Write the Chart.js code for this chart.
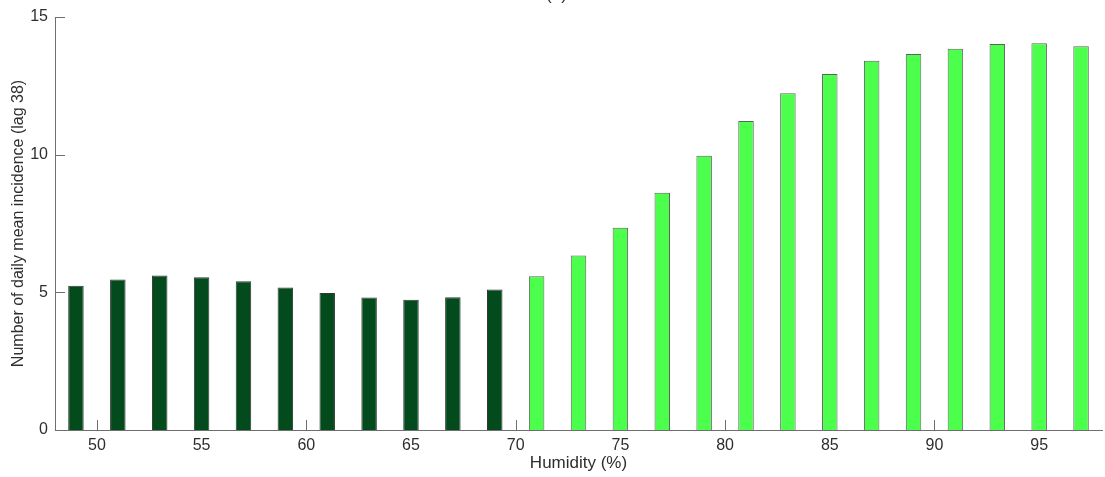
<!DOCTYPE html>
<html>
<head>
<meta charset="utf-8">
<title>Daily mean incidence by humidity</title>
<script src="https://cdn.jsdelivr.net/npm/chart.js@4/dist/chart.umd.min.js"></script>
<style>
  html, body { margin: 0; padding: 0; background: #fff; }
  #wrap { width: 1105px; height: 477px; position: relative; }
  canvas { display: block; }
</style>
</head>
<body>
<div id="wrap"><canvas id="chart" width="1105" height="477"></canvas></div>
<script>
// Humidity bins (%) and mean daily incidence at lag 38
const humidity = [49, 51, 53, 55, 57, 59, 61, 63, 65, 67, 69, 71, 73, 75, 77, 79, 81, 83, 85, 87, 89, 91, 93, 95, 97];
const incidence = [5.24, 5.47, 5.61, 5.55, 5.40, 5.18, 4.98, 4.81, 4.73, 4.82, 5.10,
                   5.58, 6.34, 7.35, 8.62, 9.96, 11.22, 12.23, 12.93, 13.41, 13.66, 13.85, 14.02, 14.05, 13.94];
// Bins up to this humidity are shaded dark, the rest bright
const lowHumidityLimit = 70;
const xTickValues = [50, 55, 60, 65, 70, 75, 80, 85, 90, 95];
const yTickValues = [0, 5, 10, 15];
const panelLabel = '(a)';

const DARK = '#034a1c';
const BRIGHT = '#4dff4d';
const AXIS = '#6f6f6f';
const TEXT = '#2e2e2e';
const FONT = '"Liberation Sans", Arial, Helvetica, sans-serif';

// Short inward ticks on both axes, drawn beneath the bars
const innerTicks = {
  id: 'innerTicks',
  beforeDatasetsDraw(chart) {
    const { ctx, chartArea, scales } = chart;
    ctx.save();
    ctx.strokeStyle = AXIS;
    ctx.lineWidth = 1;
    ctx.beginPath();
    xTickValues.forEach(v => {
      const px = Math.round(scales.x.getPixelForValue(v)) + 0.5;
      ctx.moveTo(px, chartArea.bottom);
      ctx.lineTo(px, chartArea.bottom - 10);
    });
    yTickValues.forEach(v => {
      const py = Math.round(scales.y.getPixelForValue(v)) + 0.5;
      ctx.moveTo(chartArea.left, py);
      ctx.lineTo(chartArea.left + 10, py);
    });
    ctx.stroke();
    ctx.restore();
  }
};

// Panel letter above the plot
const panelTitle = {
  id: 'panelTitle',
  afterDraw(chart) {
    const { ctx } = chart;
    ctx.save();
    ctx.fillStyle = TEXT;
    ctx.font = '17px ' + FONT;
    ctx.textAlign = 'center';
    ctx.textBaseline = 'alphabetic';
    ctx.fillText(panelLabel, chart.width / 2 + 4, 0);
    ctx.restore();
  }
};

new Chart(document.getElementById('chart'), {
  type: 'bar',
  data: {
    datasets: [{
      data: humidity.map((h, i) => ({ x: h, y: incidence[i] })),
      backgroundColor: humidity.map(h => h < lowHumidityLimit ? DARK : BRIGHT),
      borderColor: humidity.map(h => h < lowHumidityLimit ? '#2f3a30' : '#5e625e'),
      borderWidth: 1,
      borderSkipped: 'bottom',
      barPercentage: 0.37,
      categoryPercentage: 1
    }]
  },
  options: {
    responsive: false,
    animation: false,
    events: [],
    layout: { padding: { top: 17, right: 3, bottom: 0, left: 0 } },
    plugins: { legend: { display: false }, tooltip: { enabled: false } },
    scales: {
      x: {
        type: 'linear',
        min: 48,
        max: 98,
        offset: false,
        afterBuildTicks: s => { s.ticks = xTickValues.map(v => ({ value: v })); },
        afterFit: s => { s.height = 47; },
        grid: { display: false, drawTicks: false },
        border: { display: true, color: AXIS, width: 1 },
        ticks: { color: TEXT, font: { family: FONT, size: 16 }, padding: 6, maxRotation: 0 },
        title: { display: true, text: 'Humidity (%)', color: TEXT, font: { family: FONT, size: 17 }, padding: { top: 0, bottom: 3 } }
      },
      y: {
        min: 0,
        max: 15,
        afterBuildTicks: s => { s.ticks = yTickValues.map(v => ({ value: v })); },
        afterFit: s => { s.width = 55; },
        grid: { display: false, drawTicks: false },
        border: { display: true, color: AXIS, width: 1 },
        ticks: { color: TEXT, font: { family: FONT, size: 16 }, padding: 7 },
        title: { display: true, text: 'Number of daily mean incidence (lag 38)', color: TEXT, font: { family: FONT, size: 16 }, padding: { top: 9, bottom: 0 } }
      }
    }
  },
  plugins: [innerTicks, panelTitle]
});
</script>
</body>
</html>
